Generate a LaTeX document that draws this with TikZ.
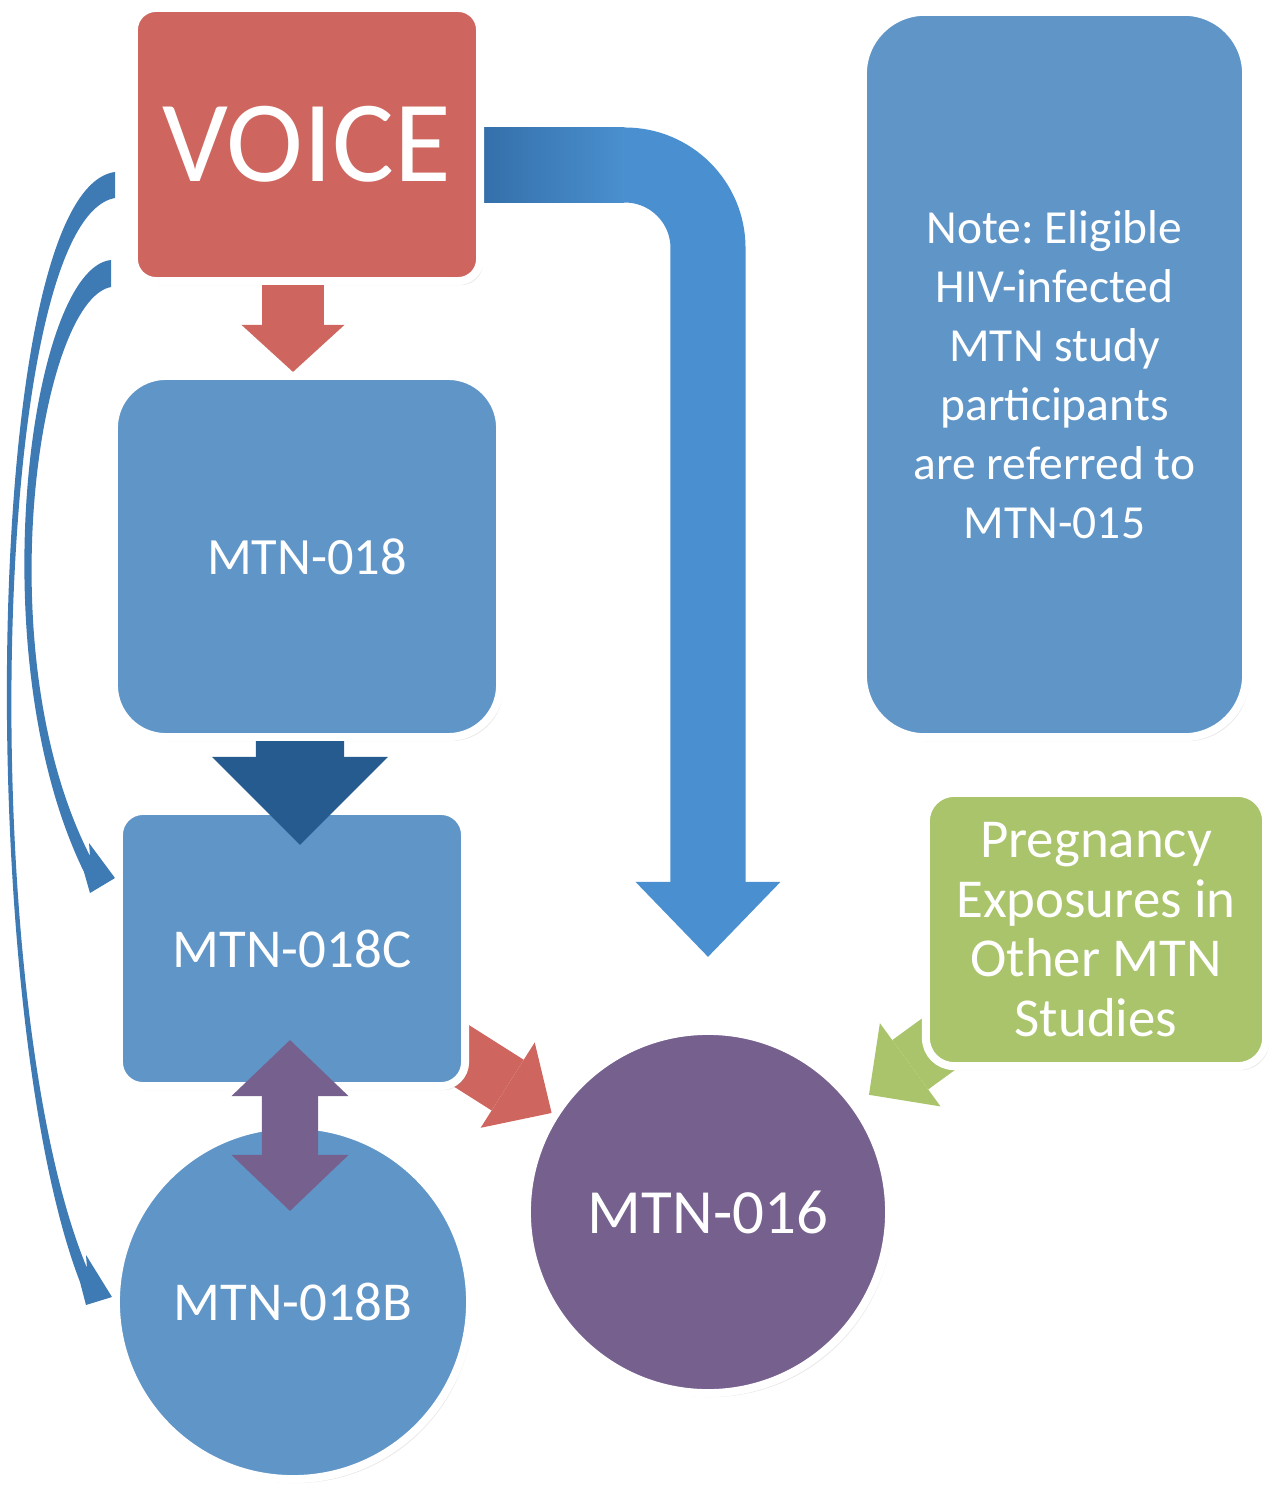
\documentclass[tikz,border=0pt]{standalone}
\usepackage{fontspec}
\setmainfont{Carlito}
\frenchspacing
\usetikzlibrary{arrows.meta,shadows}

\definecolor{voicered}{RGB}{206,102,95}
\definecolor{studyblue}{RGB}{96,149,200}
\definecolor{studypurple}{RGB}{117,96,142}
\definecolor{studygreen}{RGB}{169,196,106}
\definecolor{arrowdark}{RGB}{38,91,143}
\definecolor{elbowdark}{RGB}{52,112,170}
\definecolor{elbowlight}{RGB}{74,143,207}
\definecolor{curveblue}{RGB}{62,122,180}

\pgfdeclarelayer{behind}
\pgfsetlayers{behind,main}

\tikzset{
  blockarrow/.style n args={3}{line width=#1, -{Triangle[length=#2, width=#3, line width=0pt]}},
  twowayarrow/.style n args={3}{line width=#1, {Triangle[length=#2, width=#3, line width=0pt]}-{Triangle[length=#2, width=#3, line width=0pt]}},
}

\begin{document}
\begin{tikzpicture}[x=0.01cm, y=-0.01cm]
    \useasboundingbox (0,0) rectangle (1270,1485);

    \begin{scope}[every node/.style={draw=white, line width=0.08cm, text=white, align=center,
        drop shadow={opacity=0.18, shadow xshift=0.03cm, shadow yshift=-0.04cm}}]
      \node[fill=voicered, rounded corners=0.22cm, minimum width=3.46cm, minimum height=2.73cm,
        font=\fontsize{33}{40}\selectfont] (voice) at (307,144.5) {VOICE};
      \node[fill=studyblue, rounded corners=0.52cm, minimum width=3.86cm, minimum height=3.61cm,
        font=\fontsize{14.9}{18}\selectfont] (m018) at (307,556.5) {MTN-018};
      \node[fill=studyblue, rounded corners=0.24cm, minimum width=3.46cm, minimum height=2.75cm,
        font=\fontsize{15.6}{19}\selectfont] (m018c) at (292,948.5) {MTN-018C};
      \node[fill=studyblue, circle, minimum size=3.54cm,
        font=\fontsize{15.6}{19}\selectfont] (m018b) at (293,1302) {MTN-018B};
      \node[fill=studypurple, circle, minimum size=3.62cm,
        font=\fontsize{17.9}{21}\selectfont] (m016) at (708,1212) {MTN-016};
      \node[fill=studyblue, rounded corners=0.62cm, minimum width=3.83cm, minimum height=7.25cm,
        font=\fontsize{13.5}{16.8}\selectfont] (note) at (1054.5,374.5)
        {Note: Eligible\\HIV-infected\\MTN study\\participants\\are referred to\\MTN-015};
      \node[fill=studygreen, rounded corners=0.28cm, minimum width=3.40cm, minimum height=2.73cm,
        font=\fontsize{15.6}{17}\selectfont] (other) at (1096,929.5)
        {Pregnancy\\Exposures in\\Other MTN\\Studies};
    \end{scope}

    \coordinate (elbowtip) at ([yshift=0.70cm]m016.north);

    \begin{pgfonlayer}{behind}
      \fill[curveblue] (111,260) .. controls (30,268) and (-22,655) .. (84,872) -- (90,893)
        -- (115,878) -- (89,843) -- (90,856) .. controls (-15,650) and (40,300) .. (111,287) -- cycle;
      \fill[curveblue] (115,172) .. controls (-20,190) and (-25,1010) .. (80,1282) -- (86,1305)
        -- (112,1297) -- (86,1255) -- (87,1268) .. controls (-25,1000) and (-10,220) .. (115,198) -- cycle;

      \draw[elbowlight, blockarrow={0.75cm}{0.75cm}{1.45cm}, rounded corners=0.83cm]
        ([yshift=-0.205cm]voice.east) -| (elbowtip);
      \shade[left color=elbowdark, right color=elbowlight]
        ([yshift=0.17cm]voice.east) rectangle ([xshift=1.40cm, yshift=-0.58cm]voice.east);

      \draw[voicered, blockarrow={0.60cm}{0.52cm}{1.01cm}] (m018c.center) -- (m016);
      \draw[studygreen, blockarrow={0.61cm}{0.51cm}{1.03cm}, shorten >=0.14cm] (other.center) -- (m016);
    \end{pgfonlayer}

    \draw[voicered, blockarrow={0.62cm}{0.47cm}{1.03cm}]
      ([xshift=-0.14cm]voice.south) -- ([xshift=-0.14cm]m018.north);
    \draw[arrowdark, blockarrow={0.88cm}{0.88cm}{1.76cm}]
      ([xshift=-0.07cm]m018.south) -- ([xshift=0.08cm, yshift=-0.38cm]m018c.north);
    \draw[studypurple, twowayarrow={0.56cm}{0.56cm}{1.17cm}]
      ([xshift=-0.02cm, yshift=0.5cm]m018c.south) -- ([xshift=-0.03cm, yshift=-0.9cm]m018b.north);
\end{tikzpicture}
\end{document}
